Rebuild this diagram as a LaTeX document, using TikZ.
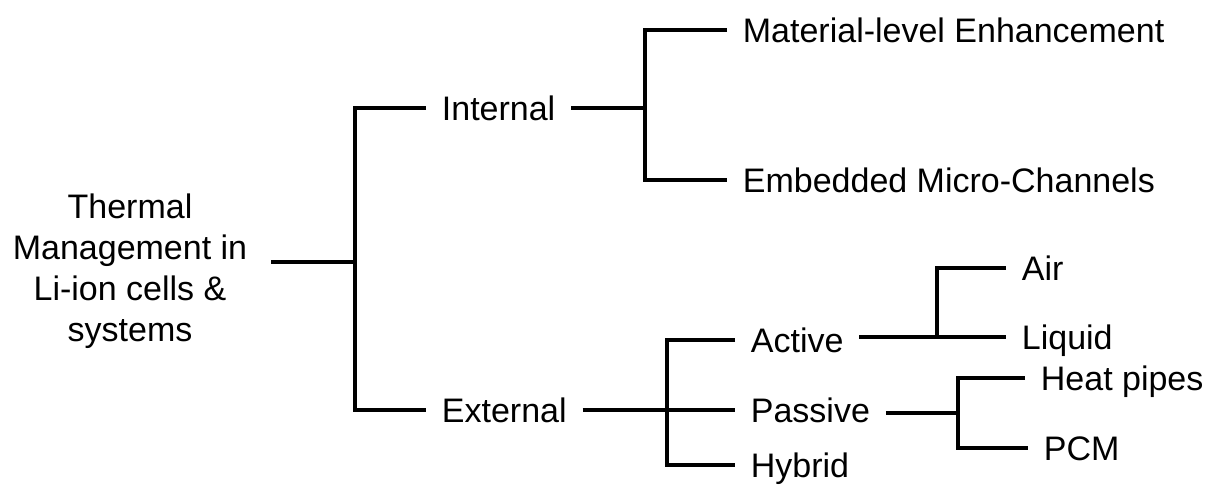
\documentclass[tikz,border=0pt]{standalone}
\usepackage{fontspec}
\setmainfont{Liberation Sans}
\usetikzlibrary{calc}
\tikzset{
  every picture/.style={x=0.5pt, y=-0.5pt, line width=1.9pt, line join=miter},
  lbl/.style={anchor=west, inner xsep=7pt, inner ysep=2pt, text height=12.2pt, text depth=0pt,
    font=\fontsize{17}{20.5}\selectfont},
  rootlbl/.style={align=center, inner xsep=11pt, font=\fontsize{17}{20.5}\selectfont},
}
\begin{document}
\begin{tikzpicture}
  \useasboundingbox (0,0) rectangle (1211,486);
  % root
  \node[rootlbl] (root) at (130,271) {Thermal\\Management in\\Li-ion cells \&\\systems};
  \coordinate (j0) at (355,262);
  \node[lbl] (internal) at (426,108) {Internal};
  \node[lbl] (external) at (426,410) {External};
  \draw (root.east |- j0) -- (j0);
  \draw (internal.west) -| (j0) |- (external.west);
  % internal
  \coordinate (jI) at (645,108);
  \node[lbl] (mat) at (727,30) {Material-level Enhancement};
  \node[lbl] (emb) at (727,180) {Embedded Micro-Channels};
  \draw (internal.east) -- (jI);
  \draw (mat.west) -| (jI) |- (emb.west);
  % external
  \coordinate (jE) at (667,410);
  \node[lbl] (active) at (735,340) {Active};
  \node[lbl] (passive) at (735,410) {Passive};
  \node[lbl] (hybrid) at (735,465) {Hybrid};
  \draw (external.east) -- (jE) -- (passive.west);
  \draw (active.west) -| (jE) |- (hybrid.west);
  % active
  \coordinate (jA) at (937,337);
  \node[lbl] (air) at (1006,268) {Air};
  \node[lbl] (liquid) at (1006,337) {Liquid};
  \draw (active.east |- jA) -- (jA) -- (liquid.west);
  \draw (air.west) -| (jA);
  % passive
  \coordinate (jP) at (958,413);
  \node[lbl] (heat) at (1025,378) {Heat pipes};
  \node[lbl] (pcm) at (1028,448) {PCM};
  \draw (passive.east |- jP) -- (jP);
  \draw (heat.west) -| (jP) |- (pcm.west);
\end{tikzpicture}
\end{document}
